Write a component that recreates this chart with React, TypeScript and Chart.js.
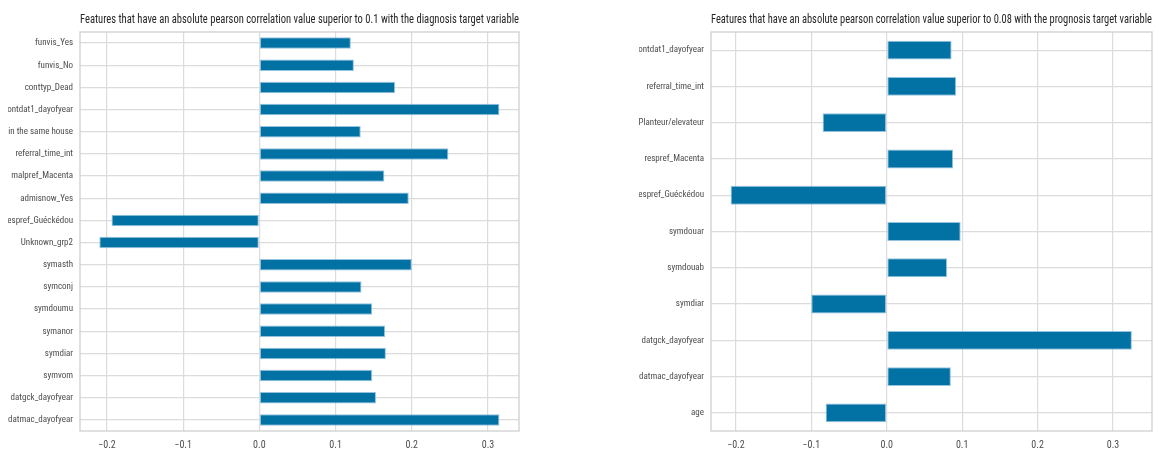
import React, { useEffect, useRef } from "react";
import { Chart, registerables } from "chart.js";

Chart.register(...registerables);

const diagTitle =
  "Features that have an absolute pearson correlation value superior to 0.1 with the diagnosis target variable";
const diagLabels = [
  "funvis_Yes",
  "funvis_No",
  "conttyp_Dead",
  "contdat1_dayofyear",
  "conttyp_Lived in the same house",
  "referral_time_int",
  "malpref_Macenta",
  "admisnow_Yes",
  "respref_Guéckédou",
  "Unknown_grp2",
  "symasth",
  "symconj",
  "symdoumu",
  "symanor",
  "symdiar",
  "symvom",
  "datgck_dayofyear",
  "datmac_dayofyear",
];
const diagValues = [
  0.12, 0.124, 0.178, 0.315, 0.133, 0.248, 0.164, 0.196, -0.194, -0.21, 0.2,
  0.134, 0.148, 0.165, 0.166, 0.148, 0.153, 0.315,
];

const progTitle =
  "Features that have an absolute pearson correlation value superior to 0.08 with the prognosis target variable";
const progLabels = [
  "contdat1_dayofyear",
  "referral_time_int",
  "occupation_Planteur/elevateur",
  "respref_Macenta",
  "respref_Guéckédou",
  "symdouar",
  "symdouab",
  "symdiar",
  "datgck_dayofyear",
  "datmac_dayofyear",
  "age",
];
const progValues = [
  0.086, 0.092, -0.085, 0.088, -0.207, 0.098, 0.08, -0.1, 0.325, 0.085, -0.081,
];

const xTickValues = [-0.2, -0.1, 0.0, 0.1, 0.2, 0.3];

const FONT_FAMILY =
  "'Liberation Sans Narrow', 'Roboto Condensed', 'DejaVu Sans Condensed', 'Liberation Sans', sans-serif";
const BAR_COLOR = "rgb(2, 113, 164)";
const GRID_COLOR = "#dcdcdc";
const FRAME_COLOR = "#cfcfcf";
const TICK_COLOR = "#4d4d4d";

const framePlugin = {
  id: "frame",
  beforeDatasetsDraw(chart: any) {
    const { ctx, chartArea: a } = chart;
    ctx.save();
    ctx.strokeStyle = FRAME_COLOR;
    ctx.lineWidth = 1.3;
    ctx.strokeRect(a.left, a.top, a.right - a.left, a.bottom - a.top);
    ctx.restore();
  },
};

const fmtTick = (v: number) => {
  if (Math.abs(v) < 1e-9) return "0.0";
  const s = v.toFixed(1);
  return s.replace("-", "\u2212");
};

type PanelProps = {
  labels: string[];
  values: number[];
  title: string;
  width: number;
  left: number;
  xMin: number;
  xMax: number;
  padRight: number;
};

function BarPanel({ labels, values, title, width, left, xMin, xMax, padRight }: PanelProps) {
  const ref = useRef<HTMLCanvasElement>(null);
  useEffect(() => {
    const chart = new Chart(ref.current as HTMLCanvasElement, {
      type: "bar",
      data: {
        labels,
        datasets: [
          {
            data: values,
            backgroundColor: BAR_COLOR,
            borderColor: "rgba(120, 180, 215, 0.8)",
            borderWidth: 1,
            borderSkipped: false,
            barPercentage: 0.52,
            categoryPercentage: 1,
          },
        ],
      },
      options: {
        indexAxis: "y",
        responsive: false,
        animation: false,
        layout: { padding: { left: 0, right: padRight, top: 0, bottom: 0 } },
        plugins: {
          legend: { display: false },
          tooltip: { enabled: false },
          title: {
            display: true,
            text: title,
            fullSize: false,
            color: "#262626",
            font: { family: FONT_FAMILY, size: 12.5, weight: "normal" },
            padding: { top: 4, bottom: 5 },
          },
        },
        scales: {
          x: {
            type: "linear",
            min: xMin,
            max: xMax,
            afterBuildTicks: (s: any) => {
              s.ticks = xTickValues.map((v) => ({ value: v }));
            },
            afterFit: (s: any) => {
              s.height = 19;
            },
            ticks: {
              callback: (v: any) => fmtTick(Number(v)),
              color: TICK_COLOR,
              font: { family: FONT_FAMILY, size: 10 },
              padding: 8,
              maxRotation: 0,
            },
            grid: { color: GRID_COLOR, lineWidth: 1.2, drawTicks: false },
            border: { display: false },
          },
          y: {
            afterFit: (s: any) => {
              s.width = 72;
            },
            ticks: {
              color: TICK_COLOR,
              font: { family: FONT_FAMILY, size: 9 },
              padding: 7,
              autoSkip: false,
            },
            grid: { color: GRID_COLOR, lineWidth: 1.2, drawTicks: false, offset: false },
            border: { display: false },
          },
        },
      },
      plugins: [framePlugin],
    } as any);
    return () => chart.destroy();
  }, []);
  return (
    <canvas
      ref={ref}
      width={width}
      height={442}
      style={{ position: "absolute", left, top: 8, display: "block" }}
    />
  );
}

export default function App() {
  return (
    <div
      style={{
        position: "fixed",
        left: 0,
        top: 0,
        width: 1159,
        height: 450,
        overflow: "hidden",
        background: "#ffffff",
      }}
    >
      <BarPanel
        labels={diagLabels}
        values={diagValues}
        title={diagTitle}
        width={600}
        left={8}
        xMin={-0.2354}
        xMax={0.3407}
        padRight={89}
      />
      <BarPanel
        labels={progLabels}
        values={progValues}
        title={progTitle}
        width={520}
        left={639}
        xMin={-0.233}
        xMax={0.3517}
        padRight={7}
      />
    </div>
  );
}
